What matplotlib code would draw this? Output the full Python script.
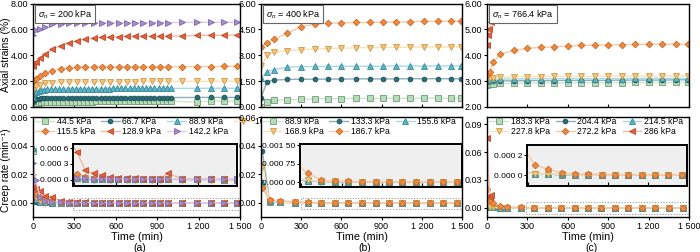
import matplotlib
matplotlib.use("Agg")
import matplotlib.pyplot as plt
from matplotlib.patches import Rectangle
from matplotlib.ticker import FuncFormatter

plt.rcParams['font.family'] = ['Liberation Sans', 'DejaVu Sans']
plt.rcParams['mathtext.fontset'] = 'custom'
plt.rcParams['mathtext.rm'] = 'Liberation Sans'
plt.rcParams['mathtext.it'] = 'Liberation Sans:italic'

# ---------------- data: panel (a), sigma_n = 200 kPa ----------------
t_a_lo = [0, 10, 20, 40, 60, 80, 100, 130, 160, 190, 220, 250, 280, 310, 340,
          370, 400, 430, 460, 490, 520, 550, 580, 610, 640, 670, 700, 730, 760,
          790, 820, 850, 880, 910, 940, 970, 1000, 1190, 1290, 1385, 1480]
eps_445 = [0.05, 0.2, 0.28, 0.33, 0.36, 0.38, 0.39, 0.4, 0.4, 0.41, 0.41, 0.41,
           0.42, 0.42, 0.42, 0.42, 0.42, 0.42, 0.43, 0.43, 0.43, 0.43, 0.43,
           0.43, 0.43, 0.43, 0.43, 0.43, 0.43, 0.43, 0.43, 0.43, 0.44, 0.44,
           0.44, 0.44, 0.44, 0.38, 0.46, 0.44, 0.45]
eps_667 = [0.35, 0.55, 0.6, 0.64, 0.66, 0.67, 0.68, 0.69, 0.7, 0.7, 0.7, 0.71,
           0.71, 0.71, 0.71, 0.71, 0.72, 0.72, 0.72, 0.72, 0.72, 0.72, 0.72,
           0.72, 0.73, 0.73, 0.73, 0.73, 0.73, 0.73, 0.73, 0.73, 0.73, 0.73,
           0.73, 0.73, 0.73, 0.74, 0.74, 0.74, 0.74]
eps_889 = [0.75, 1.05, 1.18, 1.27, 1.32, 1.35, 1.37, 1.39, 1.4, 1.4, 1.41, 1.41,
           1.41, 1.42, 1.42, 1.42, 1.42, 1.42, 1.42, 1.42, 1.42, 1.42, 1.43,
           1.43, 1.43, 1.43, 1.43, 1.43, 1.43, 1.43, 1.43, 1.43, 1.43, 1.43,
           1.43, 1.44, 1.44, 1.44, 1.45, 1.45, 1.45]

t_a_hi = [0, 20, 50, 90, 140, 200, 260, 320, 380, 440, 500, 560, 620, 680, 740,
          800, 860, 920, 980, 1080, 1190, 1290, 1385, 1480]
eps_102 = [1.35, 1.6, 1.72, 1.82, 1.88, 1.92, 1.94, 1.95, 1.96, 1.96, 1.97, 1.97,
           1.97, 1.97, 1.97, 1.98, 1.98, 1.98, 1.98, 1.98, 1.98, 1.98, 1.99, 1.99]
eps_1155 = [2.0, 2.2, 2.4, 2.6, 2.8, 2.95, 3.02, 3.06, 3.08, 3.1, 3.1, 3.1, 3.1,
            3.11, 3.11, 3.11, 3.12, 3.12, 3.12, 3.12, 3.13, 3.13, 3.14, 3.14]
eps_1289 = [3.2, 3.5, 3.8, 4.1, 4.45, 4.75, 4.97, 5.12, 5.25, 5.33, 5.38, 5.42,
            5.44, 5.45, 5.46, 5.47, 5.48, 5.48, 5.48, 5.5, 5.53, 5.55, 5.55, 5.56]
eps_1422 = [5.54, 5.95, 6.0, 6.2, 6.38, 6.45, 6.48, 6.5, 6.51, 6.52, 6.52, 6.52,
            6.52, 6.52, 6.53, 6.53, 6.53, 6.53, 6.53, 6.54, 6.55, 6.55, 6.55, 6.55]

r_445 = [0.0365, 0.0012, 0.0004, 0.0002, 0.0001, 0.00006, 0.00004, 0.00003,
         0.00002, 0.00002, 0.00001, 0.00001, 0.00001, 0.00002, 0.00001, 0.00001,
         0.00001, 0.00001, 0.00001, 0.00001, 0.00001, 0.00001, 0.00001, 0.00001]
r_667 = [0.004, 0.0008, 0.0003, 0.0001, 0.00005, 0.00003, 0.00002, 0.00001,
         0.00001, 0.0, 0.00001, 0.0, 0.00001, 0.0, 0.0, 0.00001, 0.0, 0.0,
         0.00001, 0.0, 0.0, 0.0, 0.0, 0.0]
r_889 = [0.038, 0.0025, 0.0008, 0.0003, 0.00012, 0.00006, 0.00004, 0.00003,
         0.00002, 0.00002, 0.00001, 0.00001, 0.00002, 0.00001, 0.00001, 0.00001,
         0.00001, 0.00001, 0.00001, 0.00001, 0.00001, 0.00001, 0.0, 0.0]
r_102 = [0.018, 0.003, 0.001, 0.0005, 0.0002, 0.0001, 0.00006, 0.00004, 0.00003,
         0.00002, 0.00002, 0.00002, 0.00001, 0.00001, 0.00001, 0.00001, 0.00001,
         0.00001, 0.00001, 0.00001, 0.00001, 0.0, 0.0, 0.0]
r_1155 = [0.0085, 0.006, 0.004, 0.002, 0.001, 0.0005, 0.0002, 0.0001, 0.00006,
          0.00004, 0.00003, 0.00002, 0.00002, 0.00002, 0.00001, 0.00001, 0.00001,
          0.00001, 0.00001, 0.00001, 0.00001, 0.00001, 0.00001, 0.0]
r_1289 = [0.011, 0.0095, 0.0085, 0.005, 0.0037, 0.0015, 0.0008, 0.00052, 0.00018,
          0.00012, 0.00009, 0.00005, 0.00004, 0.00003, 0.00003, 0.00002, 0.00002,
          0.00002, 0.00012, 0.00002, 0.00002, 0.00001, 0.00001, 0.00001]
r_1422 = [0.028, 0.016, 0.004, 0.0015, 0.0005, 0.0002, 0.0001, 0.00004, 0.00003,
          0.00002, 0.00002, 0.00001, 0.00001, 0.00001, 0.00001, 0.00001, 0.00001,
          0.00001, 0.00001, 0.00001, 0.00001, 0.00001, 0.00001, 0.00001]

# ---------------- data: panel (b), sigma_n = 400 kPa ----------------
t_b = [0, 45, 95, 195, 295, 400, 500, 600, 710, 810, 910, 1010, 1110, 1215,
       1320, 1420, 1490]
eps_b889 = [0.0, 0.29, 0.39, 0.42, 0.44, 0.47, 0.48, 0.49, 0.5, 0.5, 0.5, 0.5,
            0.51, 0.51, 0.51, 0.51, 0.51]
eps_1333 = [0.54, 1.46, 1.56, 1.6, 1.61, 1.61, 1.62, 1.62, 1.63, 1.63, 1.63,
            1.63, 1.64, 1.64, 1.64, 1.64, 1.64]
eps_1556 = [1.66, 2.04, 2.17, 2.31, 2.34, 2.35, 2.35, 2.36, 2.36, 2.36, 2.37,
            2.37, 2.37, 2.37, 2.38, 2.38, 2.38]
eps_1689 = [2.37, 3.0, 3.18, 3.27, 3.32, 3.36, 3.39, 3.41, 3.43, 3.44, 3.45,
            3.46, 3.47, 3.48, 3.48, 3.49, 3.49]
eps_1867 = [3.5, 3.72, 3.92, 4.28, 4.64, 4.8, 4.86, 4.88, 4.9, 4.91, 4.92, 4.93,
            4.95, 4.96, 4.97, 4.97, 4.98]

t_b_rate = [10, 65, 140, 250, 350, 450, 550, 650, 755, 855, 955, 1055, 1160,
            1260, 1360, 1460]
rb_889 = [0.011, 0.0008, 0.0003, 0.0001, 0.00005, 0.00003, 0.00002, 0.00002,
          0.00001, 0.00001, 0.00001, 0.00001, 0.00001, 0.00001, 0.00001, 0.00001]
rb_1333 = [0.036, 0.0008, 0.0002, 0.0001, 0.00004, 0.00002, 0.00001, 0.00001,
           0.00001, 0.00001, 0.00001, 0.00001, 0.00001, 0.00001, 0.00001, 0.00001]
rb_1556 = [0.0145, 0.001, 0.0003, 0.00012, 0.00005, 0.00003, 0.00002, 0.00002,
           0.00001, 0.00001, 0.00001, 0.00001, 0.00001, 0.00001, 0.00001, 0.00001]
rb_1689 = [0.025, 0.0015, 0.0005, 0.0002, 0.00008, 0.00004, 0.00003, 0.00002,
           0.00002, 0.00002, 0.00001, 0.00001, 0.00001, 0.00001, 0.00001, 0.00001]
rb_1867 = [0.01, 0.0022, 0.0013, 0.0008, 0.00035, 0.00008, 0.00003, 0.00003,
           0.00002, 0.00002, 0.00002, 0.00002, 0.00002, 0.00002, 0.00002, 0.00002]

# ---------------- data: panel (c), sigma_n = 766.4 kPa ----------------
t_c = [0, 20, 45, 100, 200, 300, 400, 500, 600, 700, 800, 900, 1000, 1100,
       1200, 1300, 1400, 1490]
eps_1833 = [2.85, 2.88, 2.9, 2.91, 2.92, 2.92, 2.93, 2.93, 2.93, 2.94, 2.94,
            2.94, 2.94, 2.95, 2.95, 2.95, 2.95, 2.95]
eps_2044 = [2.98, 3.0, 3.0, 3.01, 3.01, 3.02, 3.02, 3.02, 3.03, 3.03, 3.03,
            3.03, 3.04, 3.04, 3.04, 3.04, 3.05, 3.05]
eps_2145 = [3.03, 3.06, 3.07, 3.08, 3.08, 3.09, 3.09, 3.09, 3.1, 3.1, 3.1, 3.1,
            3.1, 3.11, 3.11, 3.11, 3.11, 3.11]
eps_2278 = [3.1, 3.13, 3.14, 3.15, 3.16, 3.17, 3.17, 3.18, 3.18, 3.18, 3.19,
            3.19, 3.19, 3.2, 3.2, 3.2, 3.21, 3.21]
eps_2722 = [3.23, 3.35, 3.74, 4.04, 4.19, 4.27, 4.3, 4.33, 4.36, 4.38, 4.39,
            4.4, 4.41, 4.42, 4.42, 4.42, 4.43, 4.43]
t_c286 = [0, 10, 18, 27]
eps_286 = [4.4, 4.8, 5.0, 5.3]

t_c_rate = [0, 20, 45, 95, 150, 250, 350, 450, 550, 650, 750, 850, 950, 1050,
            1150, 1250, 1350, 1455]
rc_1833 = [0.002, 0.0008, 0.0004, 0.0002, 0.0001, 0.00004, 0.00001, 0.00001,
           0.0, 0.0, 0.0, 0.0, 0.0, 0.0, 0.0, 0.0, 0.0, 0.0]
rc_2044 = [0.003, 0.001, 0.0005, 0.0002, 0.0001, 0.00004, 0.00001, 0.00001,
           0.0, 0.0, 0.0, 0.0, 0.0, 0.0, 0.0, 0.0, 0.0, 0.0]
rc_2145 = [0.0025, 0.0009, 0.0004, 0.0002, 0.0001, 0.00003, 0.00001, 0.00001,
           0.00001, 0.0, 0.0, 0.0, 0.0, 0.0, 0.0, 0.0, 0.0, 0.0]
rc_2278 = [0.0015, 0.0007, 0.0003, 0.00015, 0.00008, 0.00003, 0.00001, 0.00001,
           0.00001, 0.0, 0.0, 0.0, 0.0, 0.0, 0.0, 0.0, 0.0, 0.0]
rc_2722 = [0.02, 0.008, 0.005, 0.002, 0.0008, 0.0003, 0.0001, 0.000057, 0.00002,
           0.00001, 0.00001, 0.000005, 0.000005, 0.0, 0.0, 0.0, 0.0, 0.0]
t_c286_rate = [0, 20, 33]
rc_286 = [0.075, 0.0115, 0.0138]

# ---------------- styles ----------------
# (marker, face, edge, line, size)
st_green = ('s', '#b8dcb8', '#6f9a78', '#cfe6cf', 4.6)
st_teal = ('o', '#2a6e78', '#1d4f57', '#8fb0b5', 3.4)
st_blue = ('^', '#5bb5c8', '#3a8a9a', '#a9dbe5', 4.6)
st_lor = ('v', '#f9c574', '#c99a50', '#fde0b5', 4.6)
st_or = ('D', '#ef8a3c', '#c8692a', '#f7c9a5', 3.4)
st_red = ('<', '#e8603a', '#b84828', '#f4b8a5', 4.6)
st_pur = ('>', '#a88bd0', '#7e66a8', '#d9cdea', 4.6)

W, H = 700, 252


def px(x0, y0, w, h):
    return [x0 / W, 1 - (y0 + h) / H, w / W, h / H]


def draw(ax, t, y, st, label=None):
    m, fc, ec, lc, ms = st
    ln, = ax.plot(t, y, color=lc, lw=1.0, marker=m, ms=ms, mfc=fc, mec=ec,
                  mew=0.6, label=label)
    return ln


def space_fmt(nd):
    def f(v, pos):
        s = f'{v:.{nd}f}'
        if abs(v) < 1e-12:
            s = f'{0:.{nd}f}'
        a, b = s.split('.')
        if len(b) > 3:
            b = b[:3] + ' ' + b[3:]
        return a + '.' + b
    return FuncFormatter(f)


def xfmt(v, pos):
    v = int(round(v))
    return f'{v:,}'.replace(',', ' ')


fig = plt.figure(figsize=(7, 2.52), dpi=100)

cols = [(33, 207), (261, 201), (487, 202)]
tops = []
bots = []
for x0, w in cols:
    tops.append(fig.add_axes(px(x0, 3.5, w, 103.5)))
    bots.append(fig.add_axes(px(x0, 117, w, 100)))

for ax in tops + bots:
    ax.set_xlim(0, 1500)
    ax.set_xticks([0, 300, 600, 900, 1200, 1500])
    for s in ax.spines.values():
        s.set_linewidth(1.0)
    ax.tick_params(labelsize=6.5, length=2.5, width=0.8, pad=1)

for ax in tops:
    ax.tick_params(axis='x', direction='in', labelbottom=False)
    ax.yaxis.set_major_formatter(FuncFormatter(lambda v, p: f'{v:.2f}'))

for ax in bots:
    ax.xaxis.set_major_formatter(FuncFormatter(xfmt))
    ax.yaxis.set_major_formatter(FuncFormatter(lambda v, p: f'{v:.2f}'))
    ax.set_xlabel('Time (min)', fontsize=7.8, labelpad=0.8)

# ---- top panels: axial strain ----
ax = tops[0]
draw(ax, t_a_lo, eps_445, st_green)
draw(ax, t_a_lo, eps_667, st_teal)
draw(ax, t_a_lo, eps_889, st_blue)
draw(ax, t_a_hi, eps_102, st_lor)
draw(ax, t_a_hi, eps_1155, st_or)
draw(ax, t_a_hi, eps_1289, st_red)
draw(ax, t_a_hi, eps_1422, st_pur)
ax.set_ylim(0, 8)
ax.set_yticks([0, 2, 4, 6, 8])

ax = tops[1]
draw(ax, t_b, eps_b889, st_green)
draw(ax, t_b, eps_1333, st_teal)
draw(ax, t_b, eps_1556, st_blue)
draw(ax, t_b, eps_1689, st_lor)
draw(ax, t_b, eps_1867, st_or)
ax.set_ylim(0, 6)
ax.set_yticks([0, 1.5, 3, 4.5, 6])

ax = tops[2]
draw(ax, t_c, eps_1833, st_green)
draw(ax, t_c, eps_2044, st_teal)
draw(ax, t_c, eps_2145, st_blue)
draw(ax, t_c, eps_2278, st_lor)
draw(ax, t_c, eps_2722, st_or)
draw(ax, t_c286, eps_286, st_red)
ax.set_ylim(2, 6)
ax.set_yticks([2, 3, 4, 5, 6])

for ax, s in zip(tops, ['200', '400', '766.4']):
    ax.text(0.025, 0.955, r'$\sigma_n$ = ' + s + ' kPa', transform=ax.transAxes,
            va='top', ha='left', fontsize=6.5,
            bbox=dict(boxstyle='square,pad=0.3', fc='white', ec='#666666', lw=0.8))

# ---- bottom panels: creep rate ----
rate_sets = [
    [(t_a_hi, r_445, st_green, '44.5 kPa'), (t_a_hi, r_667, st_teal, '66.7 kPa'),
     (t_a_hi, r_889, st_blue, '88.9 kPa'), (t_a_hi, r_102, st_lor, '102 kPa'),
     (t_a_hi, r_1155, st_or, '115.5 kPa'), (t_a_hi, r_1289, st_red, '128.9 kPa'),
     (t_a_hi, r_1422, st_pur, '142.2 kPa')],
    [(t_b_rate, rb_889, st_green, '88.9 kPa'), (t_b_rate, rb_1333, st_teal, '133.3 kPa'),
     (t_b_rate, rb_1556, st_blue, '155.6 kPa'), (t_b_rate, rb_1689, st_lor, '168.9 kPa'),
     (t_b_rate, rb_1867, st_or, '186.7 kPa')],
    [(t_c_rate, rc_1833, st_green, '183.3 kPa'), (t_c_rate, rc_2044, st_teal, '204.4 kPa'),
     (t_c_rate, rc_2145, st_blue, '214.5 kPa'), (t_c_rate, rc_2278, st_lor, '227.8 kPa'),
     (t_c_rate, rc_2722, st_or, '272.2 kPa'), (t_c286_rate, rc_286, st_red, '286 kPa')],
]
legend_orders = [[0, 4, 1, 5, 2, 6, 3], [0, 3, 1, 4, 2], [0, 3, 1, 4, 2, 5]]
legend_ncols = [4, 3, 3]
ylims = [(-0.01, 0.06), (-0.01, 0.06), (-0.01, 0.098)]
yticks = [[0, 0.02, 0.04, 0.06], [0, 0.02, 0.04, 0.06], [0, 0.03, 0.06, 0.09]]
boxes = [(290, -0.005, 0.0083), (300, -0.0045, 0.0077), (292, -0.0064, 0.0121)]

# inset: (x0, y0, w, h) px, ylim, yticks, decimals
insets = [
    ((73, 144, 164, 42), (-0.00012, 0.00068), [0, 0.0003, 0.0006], 4),
    ((300, 144, 162, 43), (-0.0002, 0.00155), [0, 0.00075, 0.0015], 5),
    ((527, 145, 160, 41), (-0.00011, 0.0003), [0, 0.0002], 4),
]
inset_xlims = [(290, 1480), (290, 1500), (290, 1490)]

for i, ax in enumerate(bots):
    handles = []
    for t, r, st, lab in rate_sets[i]:
        handles.append(draw(ax, t, r, st, lab))
    ax.set_ylim(*ylims[i])
    ax.set_yticks(yticks[i])
    bx, by, bh = boxes[i]
    ax.add_patch(Rectangle((bx, by), 1500 - bx, bh, fill=False, ec='#999999',
                           ls=(0, (1, 1.5)), lw=0.8, zorder=0.5))
    hs = [handles[k] for k in legend_orders[i]]
    ax.legend(handles=hs, ncol=legend_ncols[i], loc='upper left', frameon=False,
              fontsize=6.2, handlelength=2.2, handletextpad=0.3, columnspacing=0.7,
              labelspacing=0.15, borderaxespad=0.15, borderpad=0.1,
              bbox_to_anchor=(0.0, 1.02))

    (ix, iy, iw, ih), ylim, ytk, nd = insets[i]
    ai = fig.add_axes(px(ix, iy, iw, ih))
    for t, r, st, lab in rate_sets[i]:
        draw(ai, t, r, st)
    ai.set_facecolor('#efefef')
    ai.set_xlim(*inset_xlims[i])
    ai.set_ylim(*ylim)
    ai.set_xticks([300, 600, 900, 1200])
    ai.set_yticks(ytk)
    ai.yaxis.set_major_formatter(space_fmt(nd))
    ai.tick_params(axis='x', direction='in', labelbottom=False, length=3, width=0.8)
    ai.tick_params(axis='y', labelsize=6, length=2.5, width=0.8, pad=1)
    for s in ai.spines.values():
        s.set_linewidth(1.4)

# y labels placed as figure text so they stay inside the canvas
fig.text(6 / W, 1 - 55 / H, 'Axial strains (%)', rotation=90, ha='center',
         va='center', fontsize=7.4)
fig.text(6 / W, 1 - 170 / H, 'Creep rate (min\u207b\u00b9)', rotation=90,
         ha='center', va='center', fontsize=7.4)

for (x0, w), lab in zip(cols, ['(a)', '(b)', '(c)']):
    fig.text((x0 + w / 2 + 3) / W, 1 - 247.8 / H, lab, ha='center', va='center',
             fontsize=7.5)

fig.savefig('out.png', dpi=100)
